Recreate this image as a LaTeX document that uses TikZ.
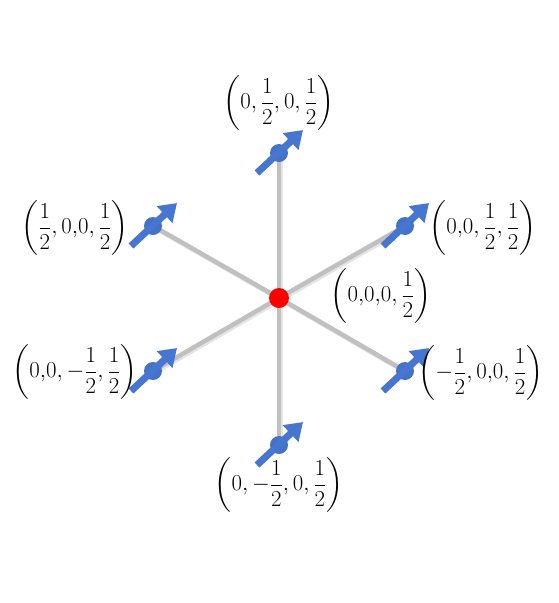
\documentclass[tikz,border=0pt]{standalone}
\usepackage{amsmath}
\usetikzlibrary{arrows.meta,calc}
\definecolor{spokegray}{RGB}{192,192,192}
\definecolor{dotblue}{RGB}{68,114,196}
\definecolor{arrblue}{RGB}{70,118,208}
\tikzset{
  spoke/.style={draw=spokegray,line width=4.5pt},
  spokeshadow/.style={draw=black!10,line width=5pt},
  bluedot/.style={circle,fill=dotblue,minimum size=18pt,inner sep=0pt},
  reddot/.style={circle,fill=red,minimum size=20pt,inner sep=0pt},
  spin/.style={draw=arrblue,line width=7pt,-{Triangle[width=22pt,length=17pt]}},
  lbl/.style={font=\huge,inner sep=0pt,scale=1.1,transform shape}
}
\newcommand{\myspin}[1]{%
  \draw[spin] ($(#1)+(-22,20)$) -- ($(#1)+(24,-23)$);}
\begin{document}
\begin{tikzpicture}[x=1pt,y=-1pt]
\useasboundingbox (0,0) rectangle (559,603);
\coordinate (c) at (279,298);
\coordinate (pt) at (279,153);
\coordinate (pul) at (153,226);
\coordinate (pur) at (405,226);
\coordinate (pll) at (153,371);
\coordinate (plr) at (405,371);
\coordinate (pb) at (279,445);
% spokes: shadows first, then lines
\foreach \p in {pt,pul,pur,pll,plr,pb}{
  \draw[spokeshadow] ($(c)+(1.5,1.5)$) -- ($(\p)+(1.5,1.5)$);
}
\foreach \p in {pt,pul,pur,pll,plr,pb}{
  \draw[spoke] (c) -- (\p);
}
\node[reddot] (center) at (c) {};
\node[bluedot] (t) at (pt) {};
\node[bluedot] (ul) at (pul) {};
\node[bluedot] (ur) at (pur) {};
\node[bluedot] (ll) at (pll) {};
\node[bluedot] (lr) at (plr) {};
\node[bluedot] (b) at (pb) {};
\myspin{t}\myspin{ul}\myspin{ur}\myspin{ll}\myspin{lr}\myspin{b}
% labels
\node[lbl] (Lt) at (279,103) {$\left(0,\dfrac{1}{2},0,\dfrac{1}{2}\right)$};
\node[lbl] (Lul) at (75,228) {$\left(\dfrac{1}{2},0{,}0,\dfrac{1}{2}\right)$};
\node[lbl] (Lur) at (483,228) {$\left(0{,}0,\dfrac{1}{2},\dfrac{1}{2}\right)$};
\node[lbl] (Lc) at (381,296) {$\left(0{,}0{,}0,\dfrac{1}{2}\right)$};
\node[lbl] (Lll) at (75,372) {$\left(0{,}0,-\dfrac{1}{2},\dfrac{1}{2}\right)$};
\node[lbl] (Llr) at (481,373) {$\left(-\dfrac{1}{2},0{,}0,\dfrac{1}{2}\right)$};
\node[lbl] (Lb) at (279,485) {$\left(0,-\dfrac{1}{2},0,\dfrac{1}{2}\right)$};
\end{tikzpicture}
\end{document}
